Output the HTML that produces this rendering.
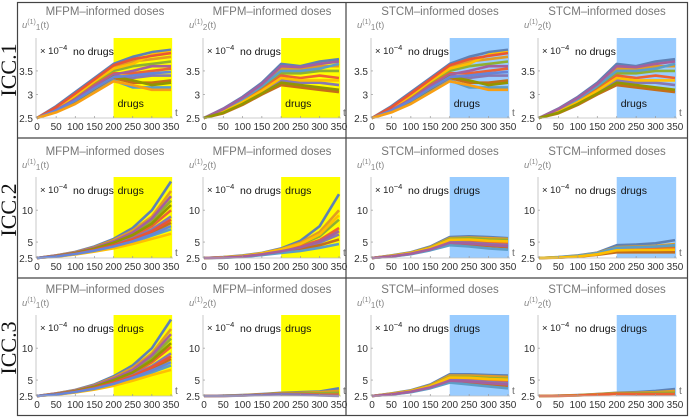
<!DOCTYPE html>
<html><head><meta charset="utf-8"><style>
html,body{margin:0;padding:0;background:#fff;}
svg{display:block;font-family:"Liberation Sans",sans-serif;}
</style></head><body>
<svg id="fig" width="690" height="418" viewBox="0 0 690 418"></svg>
<script>
// time grid (t values)
const tVals=[0,50,100,150,200,250,300,350];
// Row 1 data (×1e-4)
const r1mfpmU1=[[2.5,2.75,3.05,3.35,3.65,3.8,3.9,3.95],[2.5,2.72,3.0,3.3,3.6,3.7,3.75,3.8],[2.5,2.7,2.95,3.25,3.5,3.6,3.65,3.7],[2.5,2.68,2.9,3.2,3.45,3.45,3.5,3.55],[2.5,2.66,2.88,3.15,3.4,3.35,3.4,3.4],[2.5,2.65,2.85,3.1,3.35,3.25,3.25,3.3],[2.5,2.63,2.82,3.05,3.3,3.15,3.15,3.15],[2.5,2.7,2.98,3.28,3.55,3.65,3.85,3.9],[2.5,2.67,2.9,3.18,3.42,3.5,3.6,3.6],[2.5,2.64,2.86,3.12,3.38,3.3,3.2,3.25],[2.5,2.73,3.02,3.32,3.62,3.75,3.82,3.88],[2.5,2.66,2.87,3.13,3.37,3.4,3.45,3.48],[2.5,2.62,2.8,3.04,3.28,3.2,3.1,3.1]];
const r1mfpmU2=[[2.5,2.7,2.95,3.25,3.65,3.6,3.7,3.75],[2.5,2.68,2.92,3.2,3.55,3.55,3.6,3.6],[2.5,2.66,2.88,3.15,3.45,3.45,3.5,3.5],[2.5,2.64,2.85,3.1,3.4,3.35,3.4,3.35],[2.5,2.62,2.82,3.05,3.3,3.25,3.25,3.2],[2.5,2.6,2.78,3.0,3.2,3.15,3.1,3.05],[2.5,2.67,2.9,3.18,3.5,3.5,3.55,3.65],[2.5,2.63,2.84,3.08,3.35,3.3,3.3,3.3],[2.5,2.69,2.93,3.22,3.6,3.58,3.65,3.7],[2.5,2.61,2.8,3.02,3.25,3.2,3.15,3.1]];
const r1stcmU1=[[2.5,2.75,3.05,3.35,3.65,3.8,3.9,3.95],[2.5,2.72,3.0,3.3,3.6,3.7,3.75,3.8],[2.5,2.7,2.95,3.25,3.5,3.6,3.65,3.7],[2.5,2.68,2.9,3.2,3.45,3.45,3.5,3.55],[2.5,2.66,2.88,3.15,3.4,3.35,3.4,3.4],[2.5,2.65,2.85,3.1,3.35,3.25,3.25,3.3],[2.5,2.63,2.82,3.05,3.3,3.15,3.15,3.15],[2.5,2.7,2.98,3.28,3.55,3.65,3.85,3.9],[2.5,2.67,2.9,3.18,3.42,3.5,3.6,3.6],[2.5,2.64,2.86,3.12,3.38,3.3,3.2,3.25],[2.5,2.73,3.02,3.32,3.62,3.75,3.82,3.88],[2.5,2.66,2.87,3.13,3.37,3.4,3.45,3.48],[2.5,2.62,2.8,3.04,3.28,3.2,3.1,3.1]];
const r1stcmU2=[[2.5,2.7,2.95,3.25,3.65,3.6,3.7,3.75],[2.5,2.68,2.92,3.2,3.55,3.55,3.6,3.6],[2.5,2.66,2.88,3.15,3.45,3.45,3.5,3.5],[2.5,2.64,2.85,3.1,3.4,3.35,3.4,3.35],[2.5,2.62,2.82,3.05,3.3,3.25,3.25,3.2],[2.5,2.6,2.78,3.0,3.2,3.15,3.1,3.05],[2.5,2.67,2.9,3.18,3.5,3.5,3.55,3.65],[2.5,2.63,2.84,3.08,3.35,3.3,3.3,3.3],[2.5,2.69,2.93,3.22,3.6,3.58,3.65,3.7],[2.5,2.61,2.8,3.02,3.25,3.2,3.15,3.1]];
// Row 2 data
const r2mfpmU1=[[2.5,2.9,3.45,4.3,5.5,7.2,10,14.5],[2.5,2.9,3.4,4.2,5.3,6.8,9.0,13.0],[2.5,2.85,3.3,4.0,5.0,6.3,8.3,11.5],[2.5,2.8,3.25,3.9,4.8,5.9,7.5,10.0],[2.5,2.78,3.2,3.8,4.6,5.6,7.0,9.0],[2.5,2.75,3.15,3.7,4.4,5.3,6.5,8.0],[2.5,2.72,3.1,3.6,4.2,5.0,6.0,7.0],[2.5,2.7,3.05,3.5,4.0,4.7,5.5,6.3],[2.5,2.87,3.35,4.1,5.1,6.5,8.7,12.2],[2.5,2.82,3.27,3.95,4.9,6.1,7.9,10.8],[2.5,2.77,3.18,3.75,4.5,5.45,6.7,8.5],[2.5,2.73,3.12,3.65,4.3,5.1,6.2,7.5]];
const r2mfpmU2=[[2.5,2.65,2.9,3.3,4.0,5.2,7.5,12.5],[2.5,2.63,2.85,3.25,3.9,4.9,6.6,10],[2.5,2.6,2.8,3.2,3.8,4.6,5.9,8.5],[2.5,2.58,2.75,3.1,3.6,4.3,5.3,7.2],[2.5,2.56,2.72,3.05,3.5,4.0,4.9,6.2],[2.5,2.55,2.7,3.0,3.4,3.8,4.5,5.4],[2.5,2.53,2.66,2.95,3.3,3.6,4.1,4.7],[2.5,2.61,2.82,3.22,3.85,4.7,6.2,9.2],[2.5,2.57,2.74,3.08,3.55,4.15,5.1,6.7]];
const r2stcmU1=[[2.5,2.9,3.4,4.3,5.8,5.9,5.8,5.6],[2.5,2.88,3.35,4.2,5.6,5.7,5.6,5.5],[2.5,2.85,3.3,4.1,5.5,5.6,5.4,5.3],[2.5,2.8,3.25,4.0,5.2,5.2,5.0,4.9],[2.5,2.78,3.2,3.9,5.0,4.9,4.7,4.5],[2.5,2.75,3.15,3.8,4.8,4.6,4.4,4.2],[2.5,2.72,3.1,3.7,4.5,4.3,4.0,3.8],[2.5,2.83,3.28,4.05,5.35,5.4,5.2,5.1],[2.5,2.77,3.18,3.85,4.9,4.75,4.55,4.35]];
const r2stcmU2=[[2.5,2.65,2.9,3.35,4.5,4.6,4.8,5.3],[2.5,2.63,2.85,3.3,4.2,4.3,4.4,4.7],[2.5,2.6,2.8,3.2,4.0,4.1,4.2,4.3],[2.5,2.58,2.75,3.1,3.8,3.9,3.9,4.0],[2.5,2.56,2.72,3.05,3.6,3.6,3.6,3.6],[2.5,2.55,2.7,3.0,3.4,3.4,3.4,3.4],[2.5,2.62,2.83,3.25,4.1,4.2,4.3,4.5],[2.5,2.57,2.74,3.08,3.7,3.75,3.75,3.8]];
// Row 3 data
const r3mfpmU1=[[2.5,2.9,3.45,4.3,5.6,7.3,10,14.5],[2.5,2.9,3.4,4.2,5.4,6.9,9.2,13.0],[2.5,2.85,3.3,4.0,5.1,6.4,8.5,11.5],[2.5,2.8,3.25,3.9,4.9,6.0,7.8,10.2],[2.5,2.78,3.2,3.8,4.7,5.8,7.2,9.2],[2.5,2.75,3.15,3.7,4.5,5.5,6.8,8.3],[2.5,2.72,3.1,3.6,4.3,5.2,6.2,7.3],[2.5,2.7,3.05,3.5,4.1,4.9,5.8,6.6],[2.5,2.87,3.35,4.1,5.25,6.6,8.9,12.2],[2.5,2.82,3.27,3.95,5.0,6.2,8.1,10.8],[2.5,2.77,3.18,3.75,4.6,5.65,7.0,8.7],[2.5,2.73,3.12,3.65,4.4,5.35,6.5,7.8]];
const r3mfpmU2=[[2.5,2.55,2.65,2.8,3.0,3.1,3.2,3.7],[2.5,2.54,2.62,2.75,2.95,3.0,3.1,3.3],[2.5,2.53,2.6,2.72,2.9,2.9,2.9,3.0],[2.5,2.52,2.58,2.7,2.85,2.8,2.7,2.7],[2.5,2.52,2.56,2.66,2.8,2.7,2.6,2.5]];
const r3stcmU1=[[2.5,2.9,3.4,4.3,5.9,5.9,5.8,5.7],[2.5,2.88,3.35,4.2,5.7,5.7,5.6,5.5],[2.5,2.85,3.3,4.1,5.5,5.5,5.3,5.2],[2.5,2.8,3.25,4.0,5.3,5.2,5.0,4.9],[2.5,2.78,3.2,3.9,5.0,4.9,4.7,4.5],[2.5,2.75,3.15,3.8,4.8,4.6,4.3,4.1],[2.5,2.72,3.1,3.7,4.6,4.3,4.0,3.7],[2.5,2.83,3.28,4.05,5.4,5.35,5.15,5.05],[2.5,2.77,3.18,3.85,4.9,4.75,4.5,4.3]];
const r3stcmU2=[[2.5,2.55,2.65,2.8,3.0,3.1,3.3,3.6],[2.5,2.54,2.63,2.78,2.95,3.0,3.1,3.3],[2.5,2.53,2.6,2.74,2.9,2.9,2.95,3.0],[2.5,2.52,2.58,2.7,2.85,2.8,2.8,2.8]];
const xTicks=[0,50,100,150,200,250,300,350];
const yTicksR1=[2.5,3,3.5];
const yTicksR23=[2.5,5,10];
const palette=["#5E81B5","#E19C24","#8FB032","#EB6235","#8778B3","#C56E1A","#5D9EC7","#FFBF00","#A5609D","#929600","#E95536","#6685D9","#F89F13"];

const NS="http://www.w3.org/2000/svg";
const svg=document.getElementById('fig');
function mk(tag,attrs,parent,text){const e=document.createElementNS(NS,tag);for(const k in attrs)e.setAttribute(k,attrs[k]);if(text!==undefined)e.textContent=text;(parent||svg).appendChild(e);return e;}

const frame=mk('g',{});


mk('rect',{x:17.5,y:2.5,width:670,height:413,fill:'none',stroke:'#444','stroke-width':1.2},frame);
mk('line',{x1:346,y1:2,x2:346,y2:416,stroke:'#444','stroke-width':1.2},frame);
mk('line',{x1:17,y1:138,x2:688,y2:138,stroke:'#444','stroke-width':1.2},frame);
mk('line',{x1:17,y1:278,x2:688,y2:278,stroke:'#444','stroke-width':1.2},frame);

const rowDefs=[{label:'ICC.1',top:38,axis:118,ymin:2.5,ymax:4.2,ticks:yTicksR1,base:0,data:[r1mfpmU1,r1mfpmU2,r1stcmU1,r1stcmU2]},
{label:'ICC.2',top:177,axis:258,ymin:2.5,ymax:15.2,ticks:yTicksR23,base:140,data:[r2mfpmU1,r2mfpmU2,r2stcmU1,r2stcmU2]},
{label:'ICC.3',top:315,axis:396,ymin:2.5,ymax:15.2,ticks:yTicksR23,base:278,data:[r3mfpmU1,r3mfpmU2,r3stcmU1,r3stcmU2]}];
const colX=[[37,171],[204,339],[372,508],[539,675]];
const titles=['MFPM–informed doses','MFPM–informed doses','STCM–informed doses','STCM–informed doses'];
const shades=['#ffff00','#ffff00','#99ccff','#99ccff'];
const subs=['1','2','1','2'];

rowDefs.forEach((row,ri)=>{
  const lab=mk('text',{x:0,y:0,transform:`translate(16,${row.base+70}) rotate(-90)`,'text-anchor':'middle','font-size':22,'font-family':'Liberation Serif, serif',fill:'#111'},svg,row.label);
  
  
  colX.forEach((cx,ci)=>{
    const x0=cx[0],x1=cx[1];
    const sx=t=>x0+(t/350)*(x1-x0);
    const sy=v=>row.axis-(v-row.ymin)/(row.ymax-row.ymin)*(row.axis-row.top);
    const g=mk('g',{});
    
    
    const sh=mk('rect',{x:sx(200),y:row.top,width:sx(353)-sx(200),height:row.axis-row.top,fill:shades[ci]},g);
    
    
    const tt=mk('text',{x:x0+68,y:row.base+15,'text-anchor':'middle','font-size':11.5,fill:'#777'},g,titles[ci]);
    
    
    const yl=mk('text',{x:x0-15,y:row.base+28,'font-size':9.5,fill:'#888','font-style':'italic'},g);
    
    
    mk('tspan',{},yl,'u');
    mk('tspan',{dy:-4,'font-size':7,'font-style':'normal'},yl,'(1)');
    mk('tspan',{dy:6,'font-size':8,'font-style':'normal'},yl,subs[ci]);
    mk('tspan',{dy:-2,'font-style':'normal'},yl,'(t)');
    row.data[ci].forEach((s,si)=>{
      const pts=s.map((v,k)=>sx(tVals[k]).toFixed(1)+','+sy(v).toFixed(1)).join(' ');
      const pl=mk('polyline',{points:pts,fill:'none',stroke:palette[si%palette.length],'stroke-width':2.6,'stroke-linejoin':'round'},g);
      
      
    });
    mk('line',{x1:x0-1,y1:row.top,x2:x0-1,y2:row.axis,stroke:'#bbb','stroke-width':0.8},g);
    mk('line',{x1:x0-1,y1:row.axis,x2:x1+2,y2:row.axis,stroke:'#bbb','stroke-width':0.8},g);
    xTicks.forEach(t=>{
      mk('line',{x1:sx(t),y1:row.axis,x2:sx(t),y2:row.axis-2,stroke:'#999','stroke-width':0.7},g);
      const tl=mk('text',{x:sx(t),y:row.axis+12,'text-anchor':'middle','font-size':10,fill:'#333'},g,String(t));
      
      
    });
    row.ticks.forEach(v=>{
      mk('line',{x1:x0-1,y1:sy(v),x2:x0+1,y2:sy(v),stroke:'#999','stroke-width':0.7},g);
      const yt=mk('text',{x:x0-4,y:sy(v)+4,'text-anchor':'end','font-size':10,fill:'#333'},g,String(v));
      
      
    });
    const tx=mk('text',{x:x1+4,y:row.axis-2,'font-size':10,fill:'#666'},g,'t');
    
    
    const sc=mk('text',{x:x0+3,y:row.top+16,'font-size':9.5,fill:'#222'},g);
    
    
    mk('tspan',{},sc,'× 10');
    mk('tspan',{dy:-4,'font-size':7.5},sc,'−4');
    const nd=mk('text',{x:x0+36,y:row.top+17,'font-size':10.5,fill:'#111'},g,'no drugs');
    
    
    const dr=mk('text',{x:sx(200)+4,y:ri===0?row.axis-11:row.top+17,'font-size':10.5,fill:'#111'},g,'drugs');
    
    
  });
});
</script>
</body></html>
